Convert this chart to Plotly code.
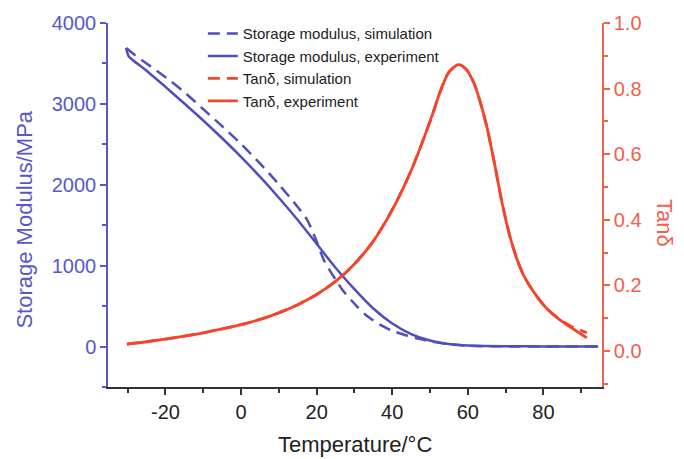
import plotly.graph_objects as go

# ---- data ----
T_sm_sim = [-30.4, -28.5, -25, -20, -15, -10, -5, 0, 5, 10, 15, 17.5, 20, 22, 25, 27, 30, 33,
            37, 40, 44, 47, 50, 55, 60, 70, 94.5]
E_sm_sim = [3690, 3620, 3500, 3330, 3145, 2935, 2725, 2505, 2265, 2005, 1725, 1565, 1300, 1060,
            830, 690, 530, 390, 265, 196, 133, 97, 65, 28, 10, 2, 0]

T_sm_exp = [-30.4, -29.8, -29.0, -25, -20, -15, -10, -5, 0, 5, 10, 15, 20, 25, 30, 35, 40, 45,
            50, 55, 60, 70, 80, 94.5]
E_sm_exp = [3690, 3595, 3555, 3410, 3210, 3005, 2795, 2575, 2345, 2100, 1840, 1565, 1270, 975,
            710, 470, 285, 155, 75, 32, 13, 4, 2, 0]

T_tan = [-30.2, -25, -20, -15, -10, -5, 0, 5, 10, 15, 20, 25, 30, 35, 40, 45, 50, 53, 55, 57.5,
         59.5, 61.5, 63, 65, 67, 69, 71, 73, 75, 78, 81, 84, 87.5, 91.5]
tan_exp = [0.021, 0.028, 0.036, 0.045, 0.055, 0.067, 0.080, 0.096, 0.116, 0.141, 0.172, 0.212,
           0.265, 0.335, 0.430, 0.550, 0.700, 0.800, 0.850, 0.873, 0.860, 0.820, 0.770, 0.685,
           0.575, 0.455, 0.355, 0.280, 0.225, 0.170, 0.128, 0.098, 0.070, 0.040]
tan_sim = [0.021, 0.028, 0.036, 0.045, 0.055, 0.067, 0.080, 0.096, 0.116, 0.141, 0.172, 0.212,
           0.265, 0.335, 0.430, 0.550, 0.700, 0.800, 0.850, 0.873, 0.860, 0.820, 0.770, 0.685,
           0.575, 0.455, 0.355, 0.280, 0.225, 0.170, 0.128, 0.099, 0.074, 0.056]

x_tickvals = [-20, 0, 20, 40, 60, 80]
x_ticktext = ['-20', '0', '20', '40', '60', '80']

BLUE = '#4e4ebd'
BLUE_AX = '#5858c8'
RED = '#f2452b'
RED_AX = '#f0604a'
FONT = 'Arial, Liberation Sans, sans-serif'

fig = go.Figure()
fig.add_trace(go.Scatter(x=T_sm_sim, y=E_sm_sim, mode='lines', name='Storage modulus, simulation',
                         line=dict(color=BLUE, width=2.5, dash='12px,7px', shape='spline', smoothing=0.8)))
fig.add_trace(go.Scatter(x=T_sm_exp, y=E_sm_exp, mode='lines', name='Storage modulus, experiment',
                         line=dict(color=BLUE, width=2.5, shape='spline', smoothing=0.8)))
fig.add_trace(go.Scatter(x=T_tan, y=tan_sim, mode='lines', name='Tanδ, simulation', yaxis='y2',
                         line=dict(color=RED, width=2.8, dash='12px,7px', shape='spline', smoothing=0.8)))
fig.add_trace(go.Scatter(x=T_tan, y=tan_exp, mode='lines', name='Tanδ, experiment', yaxis='y2',
                         line=dict(color=RED, width=2.8, shape='spline', smoothing=0.8)))

fig.update_layout(
    width=684, height=459,
    margin=dict(l=108, r=82, t=20, b=72),
    plot_bgcolor='white', paper_bgcolor='white',
    font=dict(family=FONT),
    showlegend=True,
    legend=dict(x=0.192, y=1.016, xanchor='left', yanchor='top', bgcolor='rgba(0,0,0,0)',
                font=dict(size=15, color='#222222', family=FONT), tracegroupgap=0),
    xaxis=dict(range=[-35.2, 95.5], tickvals=x_tickvals, ticktext=x_ticktext, ticks='outside',
               ticklen=6, tickwidth=1.5,
               tickcolor='#333333', showline=True, linecolor='#333333', linewidth=1.5,
               showgrid=False, zeroline=False, tickfont=dict(size=20, color='#222222'),
               minor=dict(dtick=10, tick0=0, ticks='outside', ticklen=4, tickcolor='#333333', tickwidth=1.5)),
    xaxis2=dict(overlaying='x', side='top', matches='x', range=[-35.2, 95.5], anchor='y',
                dtick=20, tick0=0, ticks='inside', ticklen=5, tickwidth=1.5, tickcolor='#333333',
                showline=True, linecolor='#333333', linewidth=1.5, showticklabels=False,
                showgrid=False, zeroline=False,
                minor=dict(dtick=10, tick0=0, ticks='inside', ticklen=3, tickcolor='#333333', tickwidth=1.5)),
    yaxis=dict(range=[-500, 4000], dtick=1000, ticks='outside', ticklen=6, tickwidth=1.5,
               tickcolor=BLUE_AX, showline=True, linecolor=BLUE_AX, linewidth=1.5,
               showgrid=False, zeroline=False, tickfont=dict(size=20, color=BLUE_AX),
               minor=dict(dtick=500, ticks='outside', ticklen=4, tickcolor=BLUE_AX, tickwidth=1.5)),
    yaxis2=dict(range=[-0.11, 1.0], dtick=0.2, tick0=0, overlaying='y', side='right', anchor='x',
                ticks='outside', ticklen=6, tickwidth=1.5, tickcolor=RED_AX, showline=True,
                linecolor=RED_AX, linewidth=1.5, showgrid=False, zeroline=False,
                tickformat='.1f', tickfont=dict(size=20, color=RED_AX),
                minor=dict(dtick=0.1, tick0=0, ticks='outside', ticklen=4, tickcolor=RED_AX, tickwidth=1.5)),
    annotations=[
        dict(text='Temperature/°C', xref='paper', yref='paper', x=0.5, y=-0.158, xanchor='center',
             yanchor='middle', showarrow=False, font=dict(size=22, color='#222222', family=FONT)),
        dict(text='Storage Modulus/MPa', xref='paper', yref='paper', x=-0.168, y=0.46,
             xanchor='center', yanchor='middle', textangle=-90, showarrow=False,
             font=dict(size=22, color=BLUE_AX, family=FONT)),
        dict(text='Tanδ', xref='paper', yref='paper', x=1.128, y=0.45, xanchor='center',
             yanchor='middle', textangle=90, showarrow=False,
             font=dict(size=22, color=RED_AX, family=FONT)),
    ],
)

fig.write_html("out.html")
